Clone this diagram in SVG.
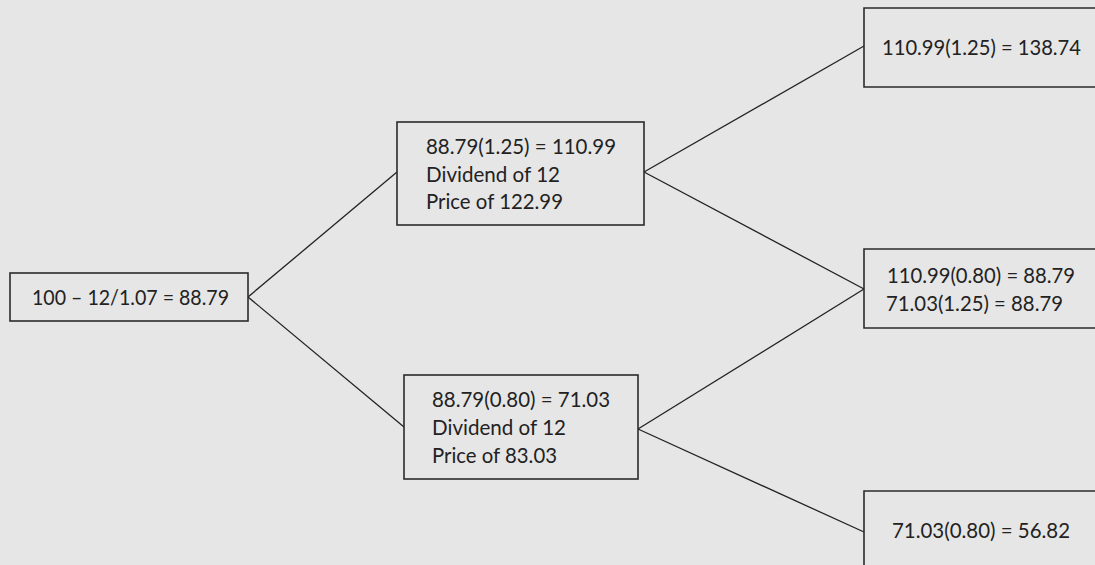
<svg xmlns="http://www.w3.org/2000/svg" width="1095" height="565" viewBox="0 0 1095 565">
<style>
.bg{fill:#e6e6e6}
.box{fill:#e6e6e6;stroke:#2b2b2b;stroke-width:1.6}
.t{font-family:Lato,"Open Sans","Liberation Sans",sans-serif;font-size:22px;fill:#222}
.s{font-size:21px}
.c{fill:none;stroke:#222;stroke-width:1.3}
</style>
<rect class="bg" x="0" y="0" width="1095" height="565"/>
<g id="connectors">
<line class="c" x1="248" y1="297" x2="397" y2="172"/>
<line class="c" x1="248" y1="297" x2="404" y2="427"/>
<line class="c" x1="644" y1="172" x2="864" y2="46"/>
<line class="c" x1="644" y1="172" x2="864" y2="289"/>
<line class="c" x1="638" y1="429" x2="864" y2="289"/>
<line class="c" x1="638" y1="429" x2="864" y2="532"/>
</g>
<g id="root">
<rect class="box" x="10" y="273" width="238" height="48"/>
<text class="t" x="32" y="305" textLength="197" lengthAdjust="spacingAndGlyphs">100 – 12/1.07 = 88.79</text>
</g>
<g id="up">
<rect class="box" x="397" y="122" width="247" height="103"/>
<text class="t" x="426" y="154" textLength="190" lengthAdjust="spacingAndGlyphs">88.79(1.25) = 110.99</text>
<text class="t" x="426" y="182" textLength="134" lengthAdjust="spacingAndGlyphs">Dividend of 12</text>
<text class="t" x="426" y="209" textLength="137" lengthAdjust="spacingAndGlyphs">Price of 122.99</text>
</g>
<g id="down">
<rect class="box" x="404" y="375" width="234" height="104"/>
<text class="t" x="432" y="407" textLength="178" lengthAdjust="spacingAndGlyphs">88.79(0.80) = 71.03</text>
<text class="t" x="432" y="435" textLength="134" lengthAdjust="spacingAndGlyphs">Dividend of 12</text>
<text class="t" x="432" y="463" textLength="125" lengthAdjust="spacingAndGlyphs">Price of 83.03</text>
</g>
<g id="uu">
<path class="box" d="M1095 8 H864 V87 H1095"/>
<text class="t s" x="882" y="55" textLength="199" lengthAdjust="spacingAndGlyphs">110.99(1.25) = 138.74</text>
</g>
<g id="ud">
<path class="box" d="M1095 249 H864 V328 H1095"/>
<text class="t" x="887" y="283" textLength="188" lengthAdjust="spacingAndGlyphs">110.99(0.80) = 88.79</text>
<text class="t" x="886" y="311" textLength="177" lengthAdjust="spacingAndGlyphs">71.03(1.25) = 88.79</text>
</g>
<g id="dd">
<path class="box" d="M1095 491 H864 V565"/>
<text class="t" x="892" y="538" textLength="178" lengthAdjust="spacingAndGlyphs">71.03(0.80) = 56.82</text>
</g>
</svg>
